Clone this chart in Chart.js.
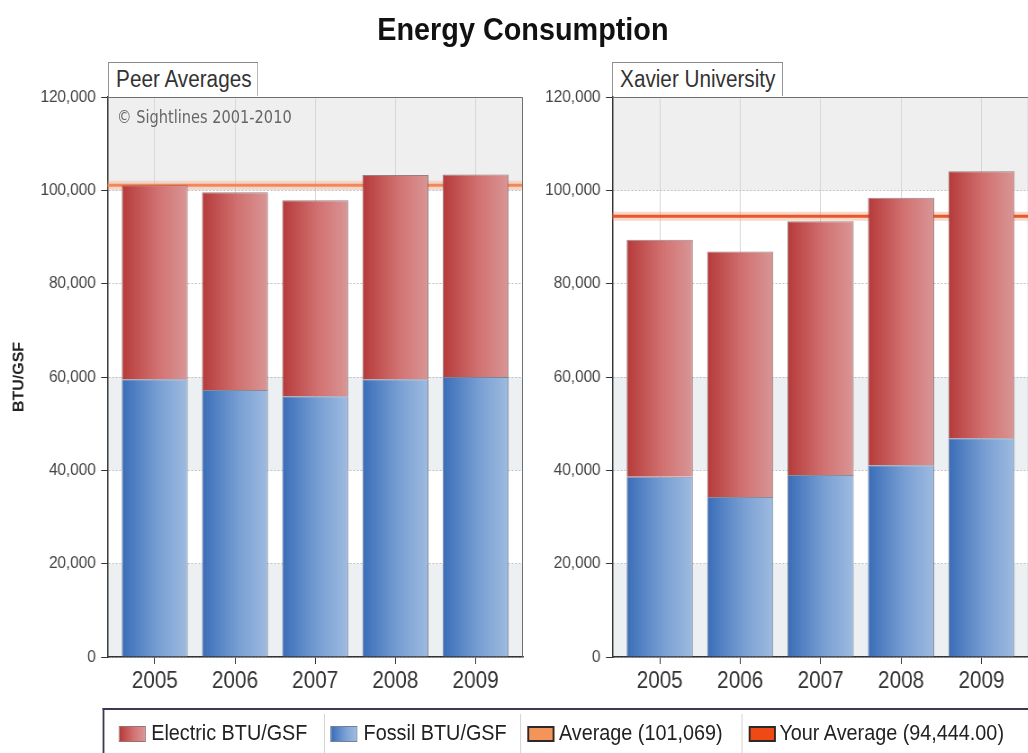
<!DOCTYPE html>
<html>
<head>
<meta charset="utf-8">
<title>Energy Consumption</title>
<script src="https://cdn.jsdelivr.net/npm/chart.js@4.4.0/dist/chart.umd.min.js"></script>
<style>
  html, body { margin: 0; padding: 0; background: #fff; overflow: hidden; width: 1028px; height: 753px; }
  /* everything is laid out a bit wider and squeezed horizontally */
  #stage { position: absolute; left: 0; top: 0; width: 1160px; height: 753px;
           transform: scaleX(0.9); transform-origin: 0 0;
           font-family: 'Liberation Sans', Arial, sans-serif; }
  #title { position: absolute; left: 0; width: 1162px; top: 11px; text-align: center;
           font-weight: bold; font-size: 32px; color: #111; }
  canvas { position: absolute; top: 60px; }
  .panel { position: absolute; top: 62px; height: 34px; line-height: 32px; font-size: 23px; color: #333;
           background: #fff; border: 1px solid #8a8a8a; border-bottom: none; padding-left: 8px; box-sizing: border-box; }
  #mark { position: absolute; left: 130px; top: 106px; font-family: 'DejaVu Sans Condensed', 'DejaVu Sans', sans-serif;
          font-size: 18px; color: #666; }
  #legend { position: absolute; left: 114px; top: 708px; width: 1060px; height: 50px; background: #fff;
            border-top: 2px solid #3a3a55; border-left: 2px solid #3a3a55; box-sizing: border-box; }
  .item { position: absolute; top: 0; height: 46px; line-height: 46px; font-size: 22px; color: #222; white-space: nowrap; }
  .sw { position: absolute; top: 16px; width: 30px; height: 16px; box-sizing: border-box; }
  .sep { position: absolute; top: 4px; width: 1px; height: 44px; background: #cfcfcf; }
</style>
</head>
<body>
<div id="stage">
  <div id="title">Energy Consumption</div>
  <canvas id="peerChart" width="587" height="640" style="left:0px"></canvas>
  <canvas id="xavierChart" width="563" height="640" style="left:587px"></canvas>
  <div class="panel" style="left:120px; width:167px">Peer Averages</div>
  <div class="panel" style="left:680px; width:190px">Xavier University</div>
  <div id="mark">© Sightlines 2001-2010</div>
  <div id="legend"></div>
</div>
<script>
// years on the x axis and the stacked BTU/GSF values per year
const years = ['2005', '2006', '2007', '2008', '2009'];
const yTicks = [0, 20000, 40000, 60000, 80000, 100000, 120000];

const peerFossil = [59500, 57200, 55900, 59500, 60000];
const peerElectric = [41600, 42400, 42000, 43800, 43400];
const xavierFossil = [38600, 34300, 39000, 41100, 46900];
const xavierElectric = [50800, 52600, 54400, 57300, 57200];

const peerAverage = 101069;
const yourAverage = 94444.00;

const X_MIN = -0.59;
const X_MAX = 4.59;
const BAR_PCT = 0.823;

// light strips behind the bars (value ranges on the y scale)
const SHADED = [[0, 20000], [40000, 60000], [100000, 120000]];

const FONT = "'Liberation Sans', Arial, sans-serif";
Chart.defaults.font.family = FONT;

const electricStops = [[0, '#b63a3a'], [0.55, '#d27272'], [1, '#d99696']];
const fossilStops = [[0, '#3a6db8'], [0.55, '#789fd3'], [1, '#9fbbe0']];

// horizontal shading across each bar, positioned from the x scale
function barFill(stops) {
    return function(ctx) {
        const chart = ctx.chart;
        const x = chart.scales && chart.scales.x;
        if (ctx.type !== 'data' || !x) return stops[1][1];
        const cx = x.getPixelForValue(ctx.raw.x);
        const half = (x.getPixelForValue(1) - x.getPixelForValue(0)) * BAR_PCT / 2;
        if (!isFinite(cx) || !isFinite(half) || half <= 0) return stops[1][1];
        const g = chart.ctx.createLinearGradient(cx - half, 0, cx + half, 0);
        stops.forEach(s => g.addColorStop(s[0], s[1]));
        return g;
    };
}

const toPoints = arr => arr.map((v, i) => ({ x: i, y: v }));

// strips behind the bars plus the top/right frame
const plotFrame = {
    id: 'plotFrame',
    beforeDraw(chart) {
        const { ctx, chartArea: a, scales: { y } } = chart;
        ctx.save();
        ctx.fillStyle = '#ffffff';
        ctx.fillRect(a.left, a.top, a.width, a.height);
        SHADED.forEach(([lo, hi]) => {
            const top = y.getPixelForValue(hi);
            const bottom = y.getPixelForValue(lo);
            ctx.fillStyle = hi === 120000 ? '#efefef' : '#edf0f3';
            ctx.fillRect(a.left, top, a.width, bottom - top);
        });
        ctx.restore();
    },
    afterDraw(chart) {
        const { ctx, chartArea: a } = chart;
        ctx.save();
        ctx.strokeStyle = '#6f6f6f';
        ctx.lineWidth = 1;
        ctx.beginPath();
        ctx.moveTo(a.left, a.top + 0.5);
        ctx.lineTo(a.right - 0.5, a.top + 0.5);
        ctx.lineTo(a.right - 0.5, a.bottom);
        ctx.stroke();
        ctx.restore();
    }
};

function makeChart(id, fossil, electric, avg, avgColor, glowColor, opts) {
    return new Chart(document.getElementById(id), {
        type: 'bar',
        data: {
            datasets: [
                {
                    label: 'Fossil BTU/GSF',
                    data: toPoints(fossil),
                    backgroundColor: barFill(fossilStops),
                    borderColor: 'rgba(95,105,125,0.75)',
                    borderWidth: 1,
                    stack: 'bars',
                    order: 1
                },
                {
                    label: 'Electric BTU/GSF',
                    data: toPoints(electric),
                    backgroundColor: barFill(electricStops),
                    borderColor: 'rgba(120,90,90,0.75)',
                    borderWidth: 1,
                    stack: 'bars',
                    order: 1
                },
                {
                    type: 'line',
                    label: 'avg',
                    data: [{ x: X_MIN, y: avg }, { x: X_MAX, y: avg }],
                    borderColor: avgColor,
                    borderWidth: 3,
                    pointRadius: 0,
                    stack: 'avgLine',
                    order: 2
                },
                {
                    type: 'line',
                    label: 'glow',
                    data: [{ x: X_MIN, y: avg }, { x: X_MAX, y: avg }],
                    borderColor: glowColor,
                    borderWidth: 9,
                    pointRadius: 0,
                    stack: 'avgGlow',
                    order: 3
                }
            ]
        },
        options: {
            responsive: false,
            animation: false,
            events: [],
            layout: { padding: { top: 37, right: opts.rightPad, left: 0, bottom: 0 } },
            datasets: { bar: { categoryPercentage: 1, barPercentage: BAR_PCT } },
            plugins: { legend: { display: false }, tooltip: { enabled: false } },
            scales: {
                x: {
                    type: 'linear',
                    min: X_MIN,
                    max: X_MAX,
                    offset: false,
                    stacked: true,
                    afterBuildTicks: axis => {
                        axis.ticks = years.map((y, i) => ({ value: i }));
                    },
                    afterFit: axis => { axis.height = 43; },
                    ticks: {
                        callback: v => years[v] || '',
                        color: '#333',
                        font: { size: 23 },
                        padding: 4,
                        maxRotation: 0,
                        autoSkip: false
                    },
                    grid: { offset: false, color: '#d6d6d6', tickColor: '#333', tickLength: 7 },
                    border: { color: '#333', width: 1.5 }
                },
                y: {
                    min: 0,
                    max: 120000,
                    stacked: true,
                    afterBuildTicks: axis => {
                        axis.ticks = yTicks.map(v => ({ value: v }));
                    },
                    afterFit: axis => { axis.width = opts.axisWidth; },
                    ticks: {
                        callback: v => v.toLocaleString('en-US'),
                        color: '#444',
                        font: { size: 17 },
                        padding: 6
                    },
                    grid: { color: 'rgba(175,175,175,0.8)', tickColor: '#333', tickLength: 7, tickBorderDash: [] },
                    border: { color: '#333', width: 1.5, dash: [2, 2] },
                    title: {
                        display: opts.showTitle,
                        text: 'BTU/GSF',
                        color: '#222',
                        font: { size: 16, weight: 'bold' },
                        padding: { top: 12, bottom: 0 }
                    }
                }
            }
        },
        plugins: [plotFrame]
    });
}

// shared legend underneath both panels
const legendItems = [
    { text: 'Electric BTU/GSF', swatch: 'linear-gradient(90deg,#b63a3a,#d27272 55%,#d99696)', border: '1px solid #9a7070', sw: 16, tx: 52 },
    { text: 'Fossil BTU/GSF', swatch: 'linear-gradient(90deg,#3a6db8,#789fd3 55%,#9fbbe0)', border: '1px solid #70809a', sw: 251, tx: 288 },
    { text: 'Average (' + peerAverage.toLocaleString('en-US') + ')', swatch: '#f4935a', border: '2px solid #2a2a2a', sw: 470, tx: 505 },
    { text: 'Your Average (' + yourAverage.toLocaleString('en-US', { minimumFractionDigits: 2 }) + ')', swatch: '#f04a14', border: '2px solid #2a2a2a', sw: 716, tx: 750 }
];
const separators = [244, 462, 708];

const legend = document.getElementById('legend');
legendItems.forEach(item => {
    const sw = document.createElement('div');
    sw.className = 'sw';
    sw.style.left = item.sw + 'px';
    sw.style.background = item.swatch;
    sw.style.border = item.border;
    legend.appendChild(sw);
    const label = document.createElement('div');
    label.className = 'item';
    label.style.left = item.tx + 'px';
    label.textContent = item.text;
    legend.appendChild(label);
});
separators.forEach(x => {
    const s = document.createElement('div');
    s.className = 'sep';
    s.style.left = x + 'px';
    legend.appendChild(s);
});

makeChart('peerChart', peerFossil, peerElectric, peerAverage,
    '#f3875a', 'rgba(248,165,130,0.35)', { axisWidth: 119.4, rightPad: 6, showTitle: true });
makeChart('xavierChart', xavierFossil, xavierElectric, yourAverage,
    '#e8562a', 'rgba(242,140,100,0.35)', { axisWidth: 93.3, rightPad: 6.7, showTitle: false });
</script>
</body>
</html>
